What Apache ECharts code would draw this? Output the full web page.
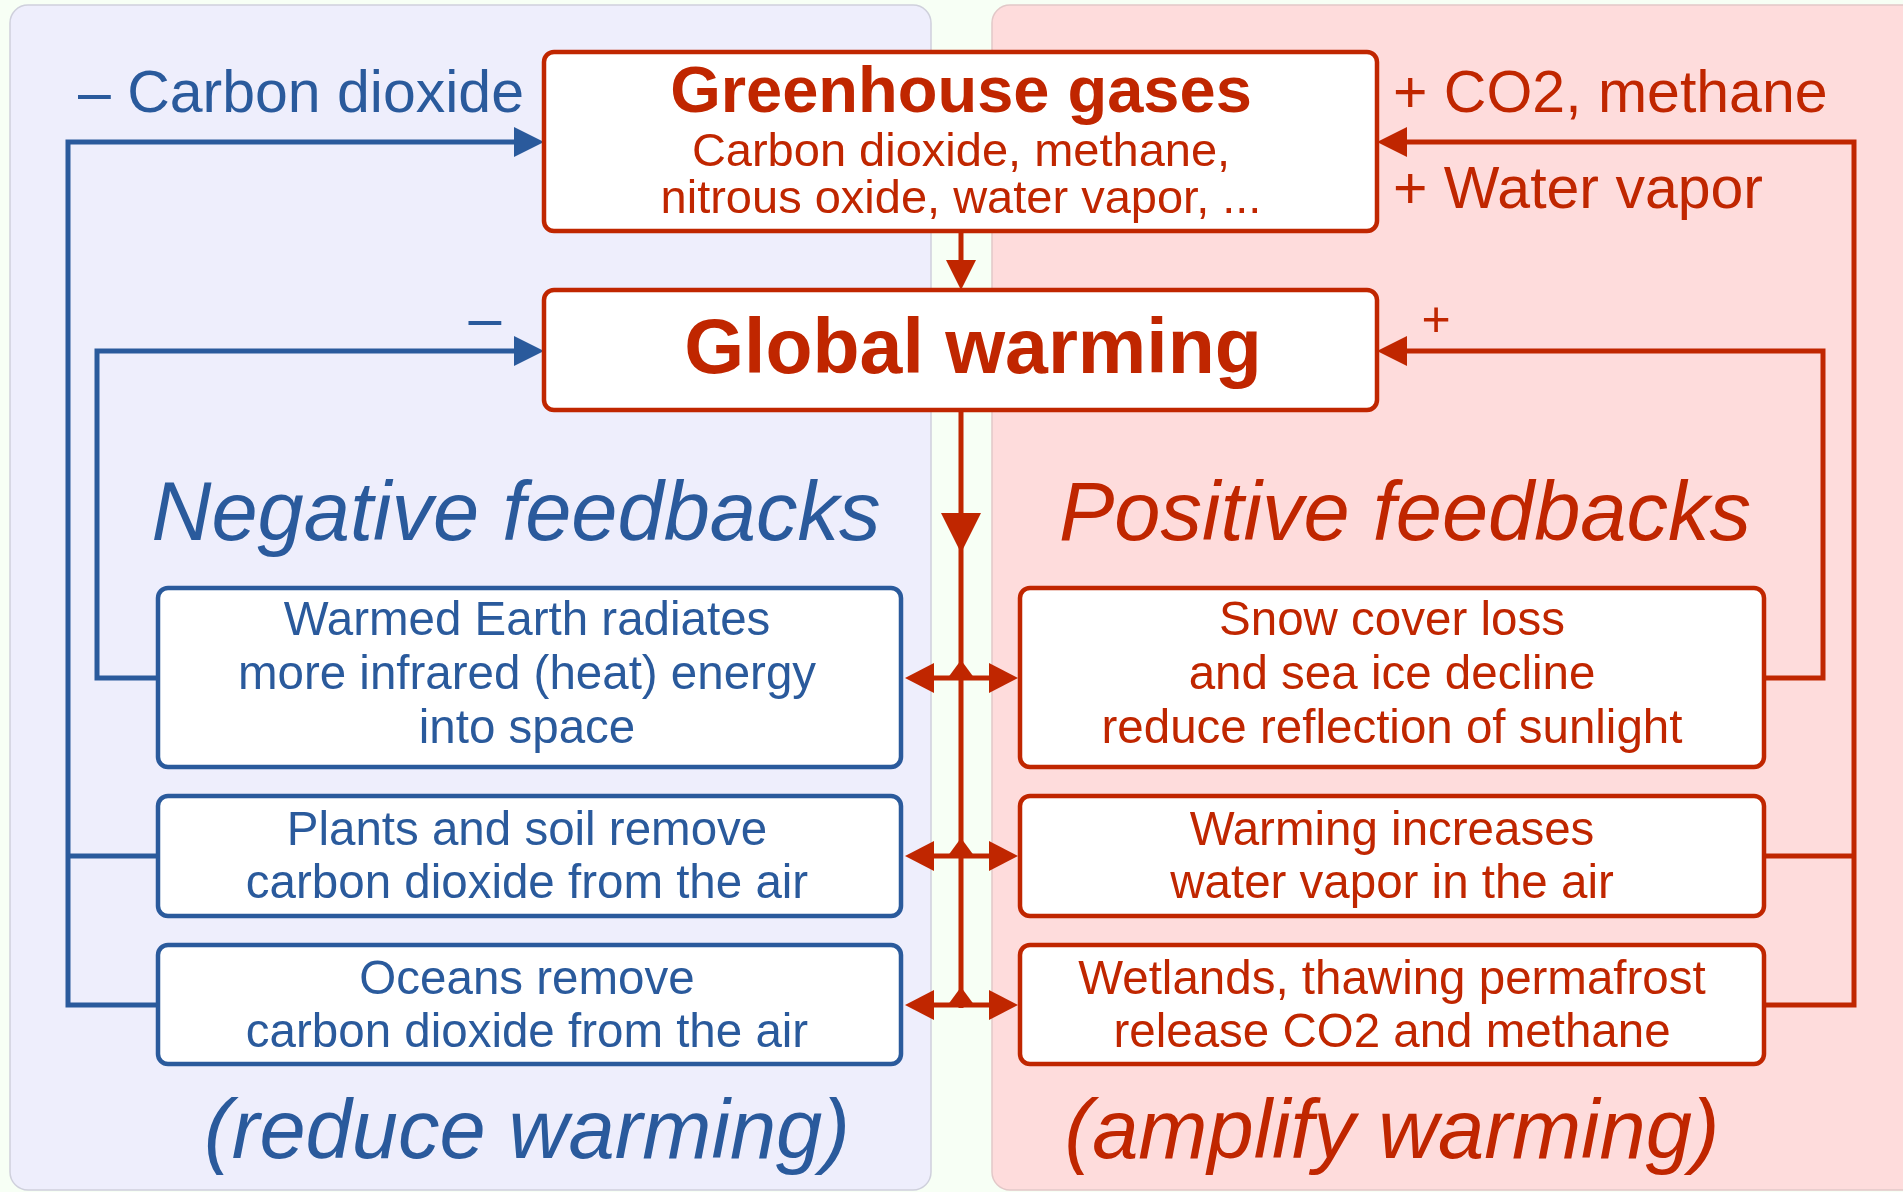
<!DOCTYPE html>
<html>
<head>
<meta charset="utf-8">
<script src="https://cdn.jsdelivr.net/npm/echarts@6/dist/echarts.min.js"></script>
<style>
  html, body { margin: 0; padding: 0; background: #f7fff5; }
  #chart { width: 1903px; height: 1192px; }
</style>
</head>
<body>
<div id="chart"></div>
<script>
// texts of the diagram
var topTitle = 'Greenhouse gases';
var topSub = ['Carbon dioxide, methane,', 'nitrous oxide, water vapor, ...'];
var midTitle = 'Global warming';
var sideLabelsLeft = ['\u2013 Carbon dioxide', '\u2013'];
var sideLabelsRight = ['+ CO2, methane', '+ Water vapor', '+'];
var headings = ['Negative feedbacks', 'Positive feedbacks'];
var footers = ['(reduce warming)', '(amplify warming)'];
var negativeItems = [
  ['Warmed Earth radiates', 'more infrared (heat) energy', 'into space'],
  ['Plants and soil remove', 'carbon dioxide from the air'],
  ['Oceans remove', 'carbon dioxide from the air']
];
var positiveItems = [
  ['Snow cover loss', 'and sea ice decline', 'reduce reflection of sunlight'],
  ['Warming increases', 'water vapor in the air'],
  ['Wetlands, thawing permafrost', 'release CO2 and methane']
];

var BLUE = '#2a5a9c';
var RED = '#c02600';
var FONT = '"Liberation Sans", Arial, sans-serif';
var LW = 5;

// feedback box rows: top, height
var rows = [[588, 179], [796, 120], [945, 119]];
var rowMid = rows.map(function (r) { return Math.round(r[0] + r[1] / 2); });

var els = [];

function rect(x, y, w, h, r, fill, stroke, lw) {
  els.push({ type: 'rect', shape: { x: x, y: y, width: w, height: h, r: r },
    style: { fill: fill, stroke: stroke, lineWidth: lw } });
}
function line(pts, color) {
  els.push({ type: 'polyline', shape: { points: pts },
    style: { stroke: color, lineWidth: LW, fill: null, lineJoin: 'miter', lineCap: 'butt' } });
}
function poly(pts, color) {
  els.push({ type: 'polygon', shape: { points: pts }, style: { fill: color } });
}
function text(str, x, y, color, font, align, lh) {
  els.push({ type: 'text', x: x, y: y, style: {
    text: str, fill: color, font: font, align: align || 'center', verticalAlign: 'middle',
    textAlign: align || 'center', textVerticalAlign: 'middle', lineHeight: lh } });
}
// arrowheads
function arrowRight(x, y, l, hw, c) { poly([[x, y], [x - l, y - hw], [x - l, y + hw]], c); }
function arrowLeft(x, y, l, hw, c) { poly([[x, y], [x + l, y - hw], [x + l, y + hw]], c); }
function arrowDown(x, y, l, hw, c) { poly([[x, y], [x - hw, y - l], [x + hw, y - l]], c); }

// background panels
rect(10, 5, 921, 1185, 18, '#eeeefc', '#cfd0dc', 1.5);
rect(992, 5, 940, 1185, 18, '#fedcdc', '#e2c8c8', 1.5);

// blue feedback loops (left)
line([[158, rowMid[2]], [68, rowMid[2]], [68, 142], [518, 142]], BLUE);
line([[68, rowMid[1]], [158, rowMid[1]]], BLUE);
arrowRight(544, 142, 30, 15, BLUE);
line([[158, rowMid[0]], [97, rowMid[0]], [97, 351], [518, 351]], BLUE);
arrowRight(544, 351, 30, 15, BLUE);

// red feedback loops (right)
line([[1764, rowMid[2]], [1854, rowMid[2]], [1854, 142], [1404, 142]], RED);
line([[1764, rowMid[1]], [1854, rowMid[1]]], RED);
arrowLeft(1377, 142, 30, 15, RED);
line([[1764, rowMid[0]], [1823, rowMid[0]], [1823, 351], [1404, 351]], RED);
arrowLeft(1377, 351, 30, 15, RED);

// central trunk
line([[961, 231], [961, 262]], RED);
arrowDown(961, 290, 30, 15, RED);
line([[961, 410], [961, rowMid[2] + 3]], RED);
arrowDown(961, 553, 40, 20, RED);
rowMid.forEach(function (y) {
  line([[932, y], [990, y]], RED);
  arrowLeft(905, y, 29, 15, RED);
  arrowRight(1018, y, 29, 15, RED);
  poly([[947, y + 1], [975, y + 1], [961, y - 18]], RED);
});

// main boxes
rect(544, 52, 833, 179, 10, '#ffffff', RED, 4.5);
rect(544, 290, 833, 120, 10, '#ffffff', RED, 4.5);
text(topTitle, 961, 94, RED, 'bold 65px ' + FONT);
text(topSub.join('\n'), 961, 177, RED, '47px ' + FONT, 'center', 47);
text(midTitle, 973, 352, RED, 'bold 77px ' + FONT);

// feedback boxes
rows.forEach(function (r, i) {
  rect(158, r[0], 743, r[1], 10, '#ffffff', BLUE, 4.5);
  rect(1020, r[0], 744, r[1], 10, '#ffffff', RED, 4.5);
  var three = negativeItems[i].length === 3;
  var lh = three ? 54 : 53;
  var ty = rowMid[i] + (three ? -2 : 2);
  text(negativeItems[i].join('\n'), 527, ty, BLUE, '47.5px ' + FONT, 'center', lh);
  text(positiveItems[i].join('\n'), 1392, ty, RED, '47.5px ' + FONT, 'center', lh);
});

// side labels
text(sideLabelsLeft[0], 524, 96, BLUE, '59px ' + FONT, 'right');
text(sideLabelsLeft[1], 485, 322, BLUE, '59px ' + FONT, 'center');
text(sideLabelsRight[0], 1393, 96, RED, '59px ' + FONT, 'left');
text(sideLabelsRight[1], 1393, 192, RED, '59px ' + FONT, 'left');
text(sideLabelsRight[2], 1436, 322, RED, '50px ' + FONT, 'center');

// headings and footers
text(headings[0], 516, 517, BLUE, 'italic 83px ' + FONT);
text(headings[1], 1405, 517, RED, 'italic 83px ' + FONT);
text(footers[0], 527, 1135, BLUE, 'italic 83px ' + FONT);
text(footers[1], 1392, 1135, RED, 'italic 83px ' + FONT);

var chart = echarts.init(document.getElementById('chart'));
chart.setOption({
  backgroundColor: '#f7fff5',
  animation: false,
  graphic: { elements: els }
});
</script>
</body>
</html>
